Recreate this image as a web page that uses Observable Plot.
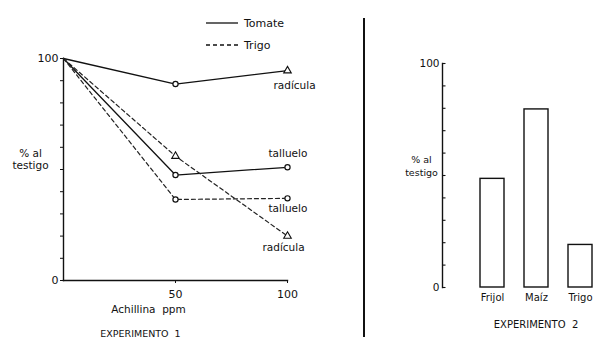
<!DOCTYPE html>
<html>
<head>
<meta charset="utf-8">
<script src="https://cdn.jsdelivr.net/npm/d3@7"></script>
<script src="https://cdn.jsdelivr.net/npm/@observablehq/plot@0.6"></script>
<style>
  html, body { margin: 0; padding: 0; background: #fff; }
  #fig { position: relative; width: 597px; height: 346px; font-family: "DejaVu Sans", sans-serif; color: #111; overflow: hidden; }
  #fig > * { position: absolute; top: 0; }
  #izq { left: 0; }
  #der { left: 340px; }
  #sep { left: 363px; top: 18px; width: 1.6px; height: 319px; background: #111; }
  #leyenda { left: 205px; top: 12px; font-size: 11px; }
  #leyenda div { display: flex; align-items: center; height: 22px; }
  #leyenda svg { margin-right: 5px; }
</style>
</head>
<body>
<div id="fig">
  <div id="izq"></div>
  <div id="sep"></div>
  <div id="der"></div>
  <div id="leyenda"></div>
</div>
<script>
// Experimento 1: respuesta (% del testigo) a la dosis de achillina
const dosis = [0, 50, 100];
const tomateRadicula = [100, 88.5, 94.5];
const tomateTalluelo = [100, 47.5, 51];
const trigoTalluelo = [100, 36.5, 37];
const trigoRadicula = [100, 56, 20];

// Experimento 2: % del testigo por cultivo
const cultivos = ["Frijol", "Maíz", "Trigo"];
const valores = [48.5, 79.5, 19];

const ticksY = d3.range(0, 101, 10);
const soloExtremos = d => (d === 0 || d === 100 ? d : "");

const series = [
  {cultivo: "Tomate", organo: "radícula", v: tomateRadicula},
  {cultivo: "Tomate", organo: "talluelo", v: tomateTalluelo},
  {cultivo: "Trigo", organo: "talluelo", v: trigoTalluelo},
  {cultivo: "Trigo", organo: "radícula", v: trigoRadicula}
];
const filas = series.flatMap(s =>
  dosis.map((d, i) => ({cultivo: s.cultivo, organo: s.organo, serie: s.cultivo + " " + s.organo, dosis: d, valor: s.v[i]}))
);
const puntos = filas.filter(d => d.dosis > 0);
const esTriangulo = d => d.organo === "radícula" && (d.cultivo === "Trigo" || d.dosis === 100);
const finales = filas.filter(d => d.dosis === 100);

// offsets of each end label relative to its point
const desplaz = {
  "Tomate radícula": [-14, 15],
  "Tomate talluelo": [-19, -14],
  "Trigo talluelo": [-19, 10],
  "Trigo radícula": [-25, 12]
};

const estilo = {fontFamily: "DejaVu Sans, sans-serif", fontSize: "11px", color: "#111", background: "transparent", overflow: "visible"};

const izq = Plot.plot({
  width: 340,
  height: 346,
  marginLeft: 63,
  marginRight: 53,
  marginTop: 58,
  marginBottom: 66,
  style: estilo,
  x: {domain: [0, 100]},
  y: {domain: [0, 100]},
  marks: [
    Plot.frame({anchor: "left", stroke: "#111", strokeWidth: 1.4}),
    Plot.frame({anchor: "bottom", stroke: "#111", strokeWidth: 1.4}),
    Plot.axisY({ticks: ticksY, tickFormat: soloExtremos, tickSize: 3, tickPadding: 2, label: null, fontSize: 11}),
    Plot.axisX({ticks: [50, 100], tickSize: 3, tickPadding: 7, label: null, fontSize: 11}),
    Plot.line(filas.filter(d => d.cultivo === "Tomate"), {x: "dosis", y: "valor", z: "serie", stroke: "#111", strokeWidth: 1.3}),
    Plot.line(filas.filter(d => d.cultivo === "Trigo"), {x: "dosis", y: "valor", z: "serie", stroke: "#222", strokeWidth: 1.2, strokeDasharray: "4,3"}),
    Plot.dot(puntos.filter(d => !esTriangulo(d)), {x: "dosis", y: "valor", symbol: "circle", r: 2.6, fill: "white", stroke: "#111", strokeWidth: 1.2}),
    Plot.dot(puntos.filter(esTriangulo), {x: "dosis", y: "valor", symbol: "triangle", r: 2.8, fill: "white", stroke: "#111", strokeWidth: 1.1}),
    ...finales.map(d => Plot.text([d], {x: "dosis", y: "valor", text: "organo", textAnchor: "start", dx: desplaz[d.serie][0], dy: desplaz[d.serie][1], fontSize: 10.5})),
    Plot.text(["% al\ntestigo"], {frameAnchor: "left", dx: -33, dy: -10, textAnchor: "middle", fontSize: 10.5, lineHeight: 1.15}),
    Plot.text(["Achillina\u00a0\u00a0ppm"], {frameAnchor: "bottom", dx: -27, dy: 32, fontSize: 10.5}),
    Plot.text(["EXPERIMENTO\u00a0\u00a01"], {frameAnchor: "bottom", dx: -35, dy: 56, fontSize: 9.5, letterSpacing: "2px"})
  ]
});
document.getElementById("izq").append(izq);

const barras = cultivos.map((c, i) => ({cultivo: c, valor: valores[i]}));

const anchoDer = 257, margenIzqDer = 102;
const largoTick = 3.5;

const der = Plot.plot({
  width: anchoDer,
  height: 346,
  marginLeft: margenIzqDer,
  marginRight: 0,
  marginTop: 63,
  marginBottom: 59,
  style: estilo,
  x: {domain: cultivos, range: [140, 252], paddingInner: 0.46, paddingOuter: 0},
  y: {domain: [0, 100]},
  marks: [
    Plot.barY(barras, {x: "cultivo", y: "valor", fill: "white", stroke: "#111", strokeWidth: 1.4}),
    Plot.frame({anchor: "left", stroke: "#111", strokeWidth: 1.4}),
    // minor ticks on the inner side of the axis, labels only at the ends
    Plot.ruleY(ticksY, {stroke: "#111", strokeWidth: 1.1, insetRight: anchoDer - margenIzqDer - largoTick}),
    Plot.axisY({ticks: [0, 100], tickSize: 0, tickPadding: 3, label: null, fontSize: 10.5}),
    Plot.axisX({tickSize: 0, tickPadding: 6, label: null, fontSize: 10}),
    Plot.text(["% al\ntestigo"], {frameAnchor: "left", dx: -21, dy: -10, textAnchor: "middle", fontSize: 9.5, lineHeight: 1.3}),
    Plot.text(["EXPERIMENTO\u00a0\u00a02"], {frameAnchor: "bottom", dx: 16, dy: 40, fontSize: 10, letterSpacing: "2px"})
  ]
});
document.getElementById("der").append(der);

// legend
const leyenda = d3.select("#leyenda");
[["Tomate", null], ["Trigo", "4,3"]].forEach(([nombre, guion]) => {
  const fila = leyenda.append("div");
  const s = fila.append("svg").attr("width", 34).attr("height", 6);
  s.append("line").attr("x1", 1).attr("x2", 33).attr("y1", 3).attr("y2", 3)
    .attr("stroke", "#111").attr("stroke-width", 1.3).attr("stroke-dasharray", guion);
  fila.append("span").text(nombre);
});
</script>
</body>
</html>
